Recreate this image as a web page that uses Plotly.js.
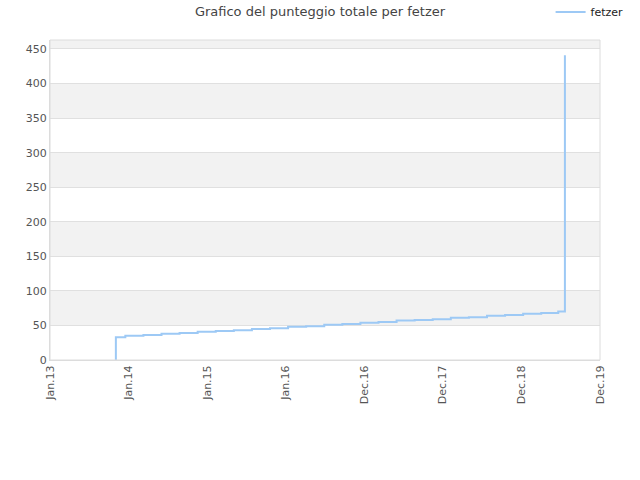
<!DOCTYPE html>
<html>
<head>
<meta charset="utf-8">
<script src="https://cdn.plot.ly/plotly-3.0.1.min.js"></script>
<style>
  body { margin: 0; background: #fff; }
  #chart { width: 640px; height: 480px; }
</style>
</head>
<body>
<div id="chart"></div>
<script>
// total score over time, one point per update
const dates = [
    '2013-11-03', '2013-11-03', '2013-12-17', '2014-03-11', '2014-06-03', '2014-08-26',
    '2014-11-18', '2015-02-10', '2015-05-05', '2015-07-28', '2015-10-20',
    '2016-01-12', '2016-04-05', '2016-06-28', '2016-09-20', '2016-12-13',
    '2017-03-07', '2017-05-30', '2017-08-22', '2017-11-14', '2018-02-06',
    '2018-05-01', '2018-07-24', '2018-10-16', '2019-01-08', '2019-04-02',
    '2019-06-20', '2019-07-21'
];
const scores = [
    0, 33, 35, 36, 38, 39,
    41, 42, 43, 45, 46,
    48, 49, 51, 52, 54,
    55, 57, 58, 59, 61,
    62, 64, 65, 67, 68,
    70, 441
];
const playerName = 'fetzer';

const tickDates = ['2013-01-01', '2014-01-01', '2015-01-01', '2016-01-01',
    '2016-12-31', '2017-12-31', '2018-12-31', '2019-12-31'];
const tickLabels = ['Jan.13', 'Jan.14', 'Jan.15', 'Jan.16',
    'Dec.16', 'Dec.17', 'Dec.18', 'Dec.19'];
const yTicks = [0, 50, 100, 150, 200, 250, 300, 350, 400, 450];
const yMax = 463;

// alternating grey bands between the y gridlines
const bands = [];
for (let i = 1; i < yTicks.length; i += 2) {
    bands.push({
        type: 'rect', xref: 'paper', yref: 'y', layer: 'below',
        x0: 0, x1: 1, y0: yTicks[i], y1: yTicks[i + 1] !== undefined ? yTicks[i + 1] : yMax,
        fillcolor: '#f2f2f2', line: { width: 0 }
    });
}
// outer frame
bands.push({
    type: 'rect', xref: 'paper', yref: 'paper', layer: 'above',
    x0: 0, x1: 1, y0: 0, y1: 1,
    fillcolor: 'rgba(0,0,0,0)', line: { color: '#dcdcdc', width: 1 }
});

const traces = [{
    type: 'scatter',
    mode: 'lines',
    x: dates,
    y: scores,
    name: playerName,
    line: { color: '#9dc9f5', width: 2, shape: 'hv' },
}];

const layout = {
    width: 640,
    height: 480,
    margin: { l: 50, r: 40, t: 40, b: 120, autoexpand: false },
    paper_bgcolor: '#fff',
    plot_bgcolor: '#fff',
    font: { family: 'DejaVu Sans, sans-serif', size: 11, color: '#555' },
    title: {
        text: 'Grafico del punteggio totale per fetzer',
        font: { size: 13, color: '#444' },
        x: 0.5, xanchor: 'center', y: 0.985, yanchor: 'top'
    },
    showlegend: true,
    legend: {
        x: 1.052, xanchor: 'right', y: 1.042, yanchor: 'bottom',
        font: { size: 11, color: '#222' },
        bgcolor: 'rgba(0,0,0,0)'
    },
    xaxis: {
        type: 'date',
        range: ['2013-01-01', '2019-12-31'],
        tickmode: 'array',
        tickvals: tickDates,
        ticktext: tickLabels,
        tickangle: -90,
        showgrid: false,
        showline: true,
        linecolor: '#dcdcdc',
        ticks: '',
        zeroline: false,
    },
    yaxis: {
        range: [0, yMax],
        tickmode: 'array',
        tickvals: yTicks,
        showgrid: true,
        gridcolor: '#e0e0e0',
        showline: true,
        linecolor: '#dcdcdc',
        ticks: '',
        ticklen: 0,
        zeroline: false,
    },
    shapes: bands,
};

Plotly.newPlot('chart', traces, layout, { displayModeBar: false, staticPlot: true });
</script>
</body>
</html>
